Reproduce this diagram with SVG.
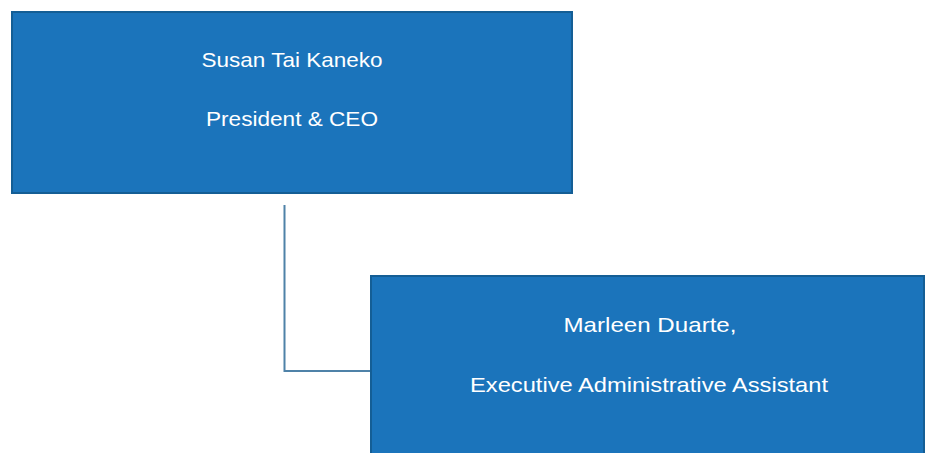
<svg xmlns="http://www.w3.org/2000/svg" width="928" height="453" viewBox="0 0 928 453">
<style>
.box{fill:#1b74bb;stroke:#145e95;stroke-width:2}
.t{font-family:"Liberation Sans",Arial,sans-serif;font-size:21px;fill:#ffffff;text-anchor:middle}
.c{fill:none;stroke:#4f82a8;stroke-width:2}
</style>
<rect width="928" height="453" fill="#ffffff"/>
<g id="connectors">
<path class="c" d="M284.5 205 V371 H371"/>
</g>
<g id="ceo">
<rect class="box" x="12" y="12" width="560" height="181"/>
<text class="t" x="292" y="67" textLength="181" lengthAdjust="spacingAndGlyphs">Susan Tai Kaneko</text>
<text class="t" x="292" y="126" textLength="172" lengthAdjust="spacingAndGlyphs">President &amp; CEO</text>
</g>
<g id="assistant">
<rect class="box" x="371" y="276" width="553" height="190"/>
<text class="t" x="650" y="332" textLength="173" lengthAdjust="spacingAndGlyphs">Marleen Duarte,</text>
<text class="t" x="649" y="392" textLength="358" lengthAdjust="spacingAndGlyphs">Executive Administrative Assistant</text>
</g>
</svg>
